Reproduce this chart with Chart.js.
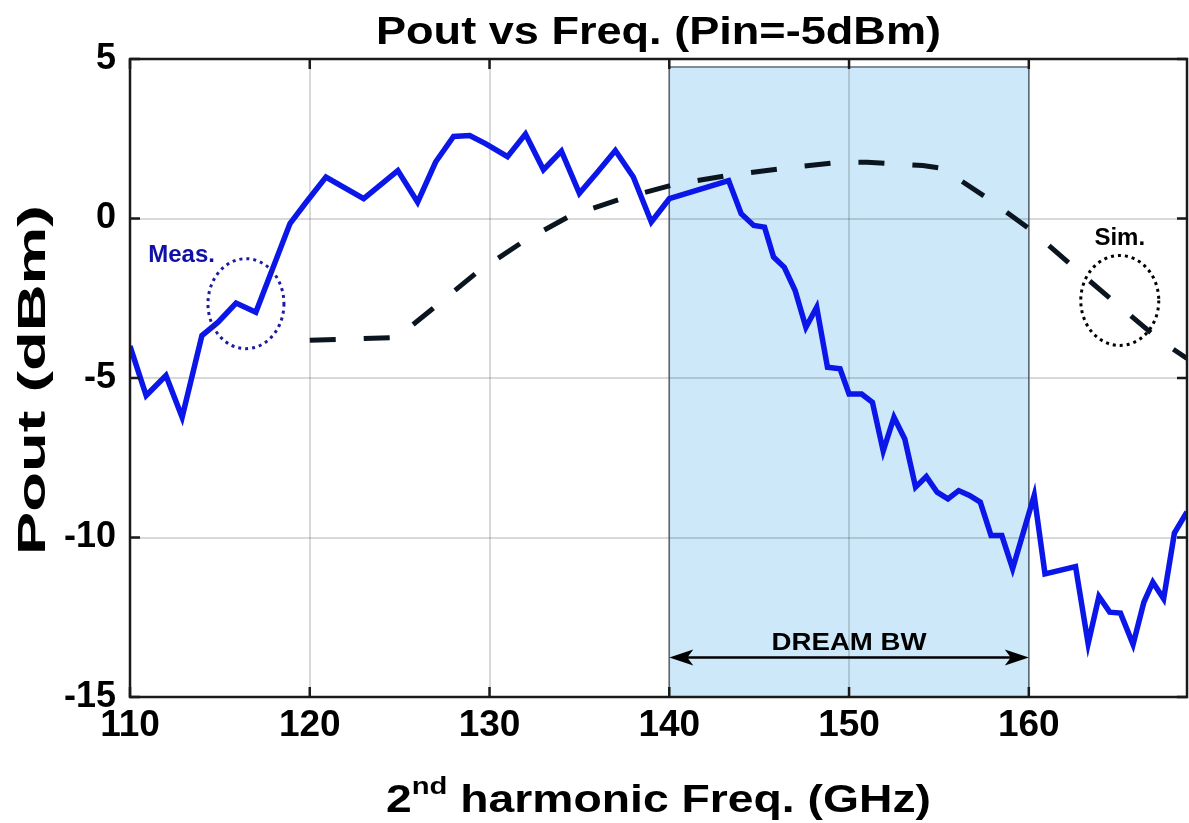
<!DOCTYPE html>
<html>
<head>
<meta charset="utf-8">
<script src="https://cdn.jsdelivr.net/npm/chart.js@4.4.0/dist/chart.umd.min.js"></script>
<style>
  html, body { margin: 0; padding: 0; background: #fff; }
  #wrap { width: 1189px; height: 823px; }
</style>
</head>
<body>
<div id="wrap"><canvas id="poutChart"></canvas></div>
<script>
// measured output power (blue solid)
const measFreq = [110, 110.9, 112, 112.9, 114, 114.9, 115.9, 117, 118.9, 119.8,
  120.9, 123, 124.9, 126, 127, 128, 128.9, 129.8, 131, 132,
  133, 134, 135, 136, 137, 138, 139, 140, 143.3, 144,
  144.7, 145.3, 145.8, 146.4, 147, 147.6, 148.2, 148.8, 149.5, 150,
  150.7, 151.3, 151.9, 152.5, 153.1, 153.7, 154.3, 154.9, 155.5, 156.1,
  156.7, 157.3, 157.9, 158.5, 159.1, 160.3, 160.9, 162.6, 163.3, 163.9,
  164.5, 165.1, 165.8, 166.4, 166.9, 167.5, 168.1, 168.8];
const measPout = [-4.0, -5.55, -4.92, -6.23, -3.67, -3.25, -2.65, -2.94, -0.16, 0.51,
  1.3, 0.62, 1.5, 0.51, 1.77, 2.57, 2.6, 2.34, 1.94, 2.65,
  1.53, 2.11, 0.79, 1.45, 2.13, 1.3, -0.11, 0.62, 1.19, 0.15,
  -0.22, -0.27, -1.21, -1.53, -2.26, -3.41, -2.78, -4.66, -4.71, -5.5,
  -5.5, -5.76, -7.29, -6.23, -6.91, -8.42, -8.09, -8.58, -8.79, -8.53,
  -8.68, -8.89, -9.94, -9.94, -10.98, -8.68, -11.14, -10.91, -13.33, -11.85,
  -12.34, -12.37, -13.35, -12.03, -11.4, -11.92, -9.86, -9.2];

// simulated output power (black dashed)
const simFreq = [120, 124.85, 126.85, 129.3, 131.8, 134.5, 137.4, 140.3, 143.3, 146.3,
  149.4, 151, 152.4, 154.1, 155.2, 157.9, 160.3, 162.7, 165, 167.3, 168.8];
const simPout = [-3.82, -3.73, -2.82, -1.69, -0.75, 0.09, 0.63, 1.07, 1.35, 1.57,
  1.76, 1.76, 1.72, 1.66, 1.57, 0.56, -0.44, -1.63, -2.73, -3.82, -4.39];

const xRange = [110, 168.8];
const yRange = [-15, 5];
const band = [140, 160];       // DREAM BW, GHz
const bandTop = 4.75;

const FONT = 'Liberation Sans, Arial, sans-serif';

const toPoints = (xs, ys) => xs.map((x, i) => ({x: x, y: ys[i]}));

// the source figure is stretched sideways, so text is drawn scaled to a target width
function wideText(ctx, parts, cx, cy, targetW, angle) {
  let w = 0;
  parts.forEach(p => { ctx.font = p.font; p.w = ctx.measureText(p.text).width; w += p.w; });
  const sx = targetW / w;
  ctx.save();
  ctx.translate(cx, cy);
  if (angle) ctx.rotate(angle);
  ctx.scale(sx, 1);
  ctx.textAlign = 'left';
  ctx.textBaseline = 'alphabetic';
  let x0 = -w / 2;
  parts.forEach(p => {
    ctx.font = p.font;
    ctx.fillText(p.text, x0, p.dy || 0);
    x0 += p.w;
  });
  ctx.restore();
}

const overlay = {
  id: 'overlay',
  beforeDraw(chart) {
    const {ctx, scales: {x, y}} = chart;
    const l = x.getPixelForValue(band[0]), r = x.getPixelForValue(band[1]);
    const t = y.getPixelForValue(bandTop), b = y.getPixelForValue(yRange[0]);
    ctx.save();
    ctx.fillStyle = '#cde8f9';
    ctx.fillRect(l, t, r - l, b - t);
    ctx.restore();
  },
  beforeDatasetsDraw(chart) {
    const {ctx, scales: {x, y}} = chart;
    const l = x.getPixelForValue(band[0]), r = x.getPixelForValue(band[1]);
    const t = y.getPixelForValue(bandTop), b = y.getPixelForValue(yRange[0]);
    ctx.save();
    ctx.strokeStyle = 'rgba(70,85,100,0.85)';
    ctx.lineWidth = 1.5;
    ctx.strokeRect(l, t, r - l, b - t);
    ctx.restore();
  },
  afterDraw(chart) {
    const {ctx, chartArea: a, scales: {x, y}} = chart;
    ctx.save();

    // frame + inward ticks
    ctx.strokeStyle = '#1a1a1a';
    ctx.lineWidth = 2.5;
    ctx.strokeRect(a.left, a.top, a.right - a.left, a.bottom - a.top);
    ctx.beginPath();
    x.ticks.forEach(tk => {
      const px = x.getPixelForValue(tk.value);
      ctx.moveTo(px, a.bottom); ctx.lineTo(px, a.bottom - 10);
      ctx.moveTo(px, a.top); ctx.lineTo(px, a.top + 10);
    });
    y.ticks.forEach(tk => {
      const py = y.getPixelForValue(tk.value);
      ctx.moveTo(a.left, py); ctx.lineTo(a.left + 10, py);
      ctx.moveTo(a.right, py); ctx.lineTo(a.right - 10, py);
    });
    ctx.stroke();

    // dotted call-out circles
    ctx.setLineDash([3, 4]);
    ctx.lineWidth = 3;
    ctx.strokeStyle = '#1c1c9c';
    ctx.beginPath();
    ctx.ellipse(x.getPixelForValue(116.45), y.getPixelForValue(-2.67), 38, 45, 0, 0, Math.PI * 2);
    ctx.stroke();
    ctx.strokeStyle = '#000';
    ctx.beginPath();
    ctx.ellipse(x.getPixelForValue(165.06), y.getPixelForValue(-2.57), 39, 45, 0, 0, Math.PI * 2);
    ctx.stroke();
    ctx.setLineDash([]);

    ctx.textAlign = 'center';
    ctx.textBaseline = 'middle';
    ctx.font = 'bold 24px ' + FONT;
    ctx.fillStyle = '#1010a8';
    ctx.fillText('Meas.', x.getPixelForValue(112.87), y.getPixelForValue(-1.16));
    ctx.fillStyle = '#000';
    ctx.fillText('Sim.', x.getPixelForValue(165.06), y.getPixelForValue(-0.63));

    // DREAM BW arrow
    const ax1 = x.getPixelForValue(band[0]), ax2 = x.getPixelForValue(band[1]);
    const ay = y.getPixelForValue(-13.76);
    wideText(ctx, [{text: 'DREAM BW', font: 'bold 24px ' + FONT}],
      (ax1 + ax2) / 2, y.getPixelForValue(-13.23) + 9, 155);
    ctx.lineWidth = 2.5;
    ctx.beginPath();
    ctx.moveTo(ax1 + 10, ay); ctx.lineTo(ax2 - 10, ay);
    ctx.stroke();
    ctx.beginPath();
    ctx.moveTo(ax1, ay); ctx.lineTo(ax1 + 24, ay - 8); ctx.lineTo(ax1 + 18, ay); ctx.lineTo(ax1 + 24, ay + 8); ctx.closePath();
    ctx.moveTo(ax2, ay); ctx.lineTo(ax2 - 24, ay - 8); ctx.lineTo(ax2 - 18, ay); ctx.lineTo(ax2 - 24, ay + 8); ctx.closePath();
    ctx.fill();

    const cx = (a.left + a.right) / 2;
    // chart title
    wideText(ctx, [{text: 'Pout vs Freq. (Pin=-5dBm)', font: 'bold 38px ' + FONT}], cx, 44, 565);
    // x axis title with superscript
    wideText(ctx, [
      {text: '2', font: 'bold 38px ' + FONT},
      {text: 'nd', font: 'bold 24px ' + FONT, dy: -18},
      {text: ' harmonic Freq. (GHz)', font: 'bold 38px ' + FONT}
    ], cx, 812, 545);
    // y axis title
    wideText(ctx, [{text: 'Pout (dBm)', font: 'bold 38px ' + FONT}], 45, 380, 350, -Math.PI / 2);
    ctx.restore();
  }
};

new Chart(document.getElementById('poutChart'), {
  type: 'line',
  data: {
    datasets: [{
      label: 'Meas.',
      data: toPoints(measFreq, measPout),
      borderColor: '#0b16e8',
      borderWidth: 5.5,
      pointRadius: 0,
      tension: 0
    }, {
      label: 'Sim.',
      data: toPoints(simFreq, simPout),
      borderColor: '#0a1520',
      borderWidth: 5,
      borderDash: [26, 28],
      borderCapStyle: 'butt',
      pointRadius: 0,
      tension: 0
    }]
  },
  options: {
    responsive: true,
    maintainAspectRatio: false,
    animation: false,
    layout: {padding: {top: 59, right: 2}},
    plugins: {
      legend: {display: false},
      tooltip: {enabled: false},
      title: {display: false}
    },
    scales: {
      x: {
        type: 'linear',
        min: xRange[0],
        max: xRange[1],
        ticks: {stepSize: 10, includeBounds: false, color: '#000', padding: 7,
          font: {family: FONT, size: 37, weight: 'bold'}},
        grid: {color: 'rgba(0,0,0,0.15)', lineWidth: 2, drawTicks: false},
        border: {display: false},
        afterFit: s => { s.height = 126; }
      },
      y: {
        min: yRange[0],
        max: yRange[1],
        ticks: {stepSize: 5, color: '#000', padding: 14,
          font: {family: FONT, size: 36, weight: 'bold'}},
        grid: {color: 'rgba(0,0,0,0.15)', lineWidth: 2, drawTicks: false},
        border: {display: false},
        afterFit: s => { s.width = 130; }
      }
    }
  },
  plugins: [overlay]
});
</script>
</body>
</html>
